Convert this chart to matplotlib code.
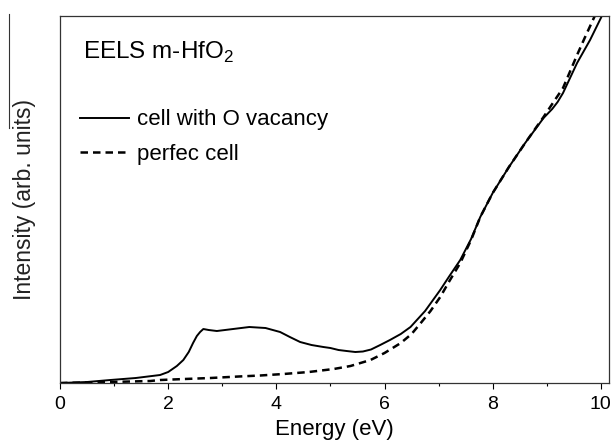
import matplotlib
matplotlib.use("Agg")
import matplotlib.pyplot as plt
from matplotlib.lines import Line2D
from matplotlib.ticker import MultipleLocator

plt.rcParams['font.family'] = ['Liberation Sans', 'DejaVu Sans']

# energia (eV) e intensidade (arb. units)
e_vac = [0, 0.5, 0.93, 1.4, 1.85, 2.0, 2.16, 2.28, 2.38, 2.46, 2.53, 2.59, 2.65, 2.75,
         2.9, 3.2, 3.5, 3.8, 4.07, 4.25, 4.44, 4.65, 4.87, 5.0, 5.15, 5.3, 5.46, 5.6,
         5.75, 5.92, 6.1, 6.3, 6.48, 6.75, 7.03, 7.2, 7.4, 7.6, 7.77, 8.0, 8.3, 8.6,
         8.94, 9.1, 9.2, 9.3, 9.56, 9.8, 10.0, 10.2]
i_vac = [0, 1, 3, 5, 8, 11, 17, 23, 31, 40, 47, 51, 54, 53,
         52, 54, 56, 55, 51, 46, 41, 38, 36, 35, 33, 32, 31, 31.5,
         33.5, 38, 43, 49, 56, 72, 93, 107, 123, 144, 166, 190, 216, 240,
         265, 274, 281, 290, 320, 343, 365, 388]

e_perf = [0, 0.5, 0.93, 1.3, 1.67, 1.85, 2.3, 2.78, 3.3, 3.7, 4.13, 4.6, 5.06,
          5.37, 5.74, 6.0, 6.3, 6.5, 6.67, 6.85, 7.03, 7.2, 7.4, 7.6, 7.77, 8.0,
          8.3, 8.6, 8.94, 9.1, 9.3, 9.56, 9.7, 9.87, 10.1]
i_perf = [0, 0.5, 1, 1.5, 2, 3, 4, 5, 6.5, 7.5, 9, 11, 14,
          17, 23, 30, 40, 49, 60, 72, 86, 102, 120, 143, 166, 190,
          216, 240, 266, 279, 295, 328, 345, 365, 392]

fig = plt.figure(figsize=(6.11, 4.41), dpi=100)
ax = fig.add_axes([0.0982, 0.1315, 0.8985, 0.8322])

ax.plot(e_vac, i_vac, color='black', lw=1.4, label='cell with O vacancy')
ax.plot(e_perf, i_perf, color='black', lw=1.8, dashes=(3.0, 2.0), label='perfec cell')

ax.set_xlim(0, 10.15)
ax.set_ylim(0, 367)
ax.xaxis.set_major_locator(MultipleLocator(2))
ax.xaxis.set_minor_locator(MultipleLocator(1))
ax.set_yticks([])
ax.tick_params(axis='x', which='major', length=4, width=0.8, labelsize=14, pad=5)
ax.tick_params(axis='x', which='minor', length=2.5, width=0.8)
for s in ax.spines.values():
    s.set_linewidth(0.9)
    s.set_color('#333333')

ax.set_xlabel('Energy (eV)', fontsize=16, labelpad=5)
ax.set_ylabel('Intensity (arb. units)', fontsize=16.5, labelpad=17, color='#222222')

ax.text(0.042, 0.9, 'EELS m-HfO$_\\mathregular{2}$', transform=ax.transAxes, fontsize=17.5,
        va='center', ha='left')

leg = ax.legend(loc='upper left', bbox_to_anchor=(0.02, 0.77), frameon=False,
                fontsize=16, handlelength=2.2, handletextpad=0.35,
                labelspacing=0.6, borderaxespad=0)

# linha solta a esquerda, como no original
fig.add_artist(Line2D([8.5 / 611, 8.5 / 611], [1 - 14 / 441, 1 - 128 / 441],
                      color='#333333', lw=0.8))

fig.savefig('out.png', dpi=100)
